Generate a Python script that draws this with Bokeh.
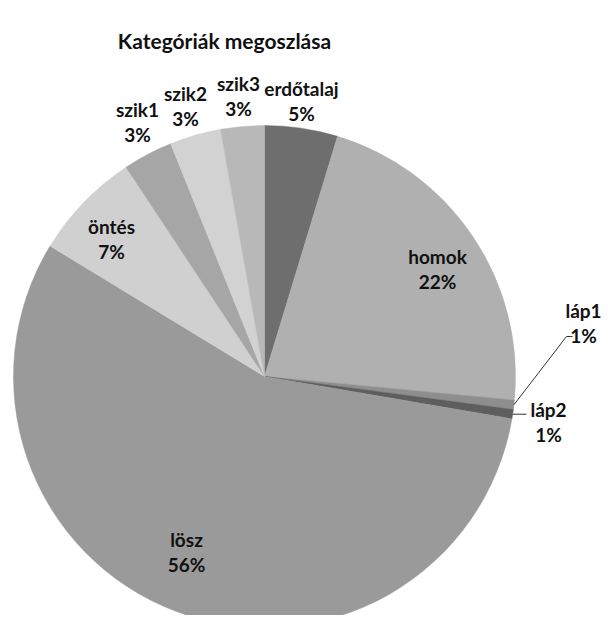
import numpy as np
from bokeh.plotting import figure
from bokeh.models import ColumnDataSource, Range1d, Label
from bokeh.core.properties import value
from bokeh.embed import file_html
from bokeh.resources import INLINE

# ---- data ----
categories = ["erdőtalaj", "homok", "láp1", "láp2", "lösz", "öntés", "szik1", "szik2", "szik3"]
shares = [4.7, 21.8, 0.6, 0.6, 56.0, 7.0, 3.2, 3.3, 2.8]
colors = ["#6e6e6e", "#b0b0b0", "#8e8e8e", "#5e5e5e", "#9a9a9a", "#d0d0d0", "#a6a6a6", "#d2d2d2", "#b8b8b8"]
title_text = "Kategóriák megoszlása"

# ---- layout (data x = px from left, data y = H - px from top) ----
W, H = 601, 615
def sy(y):
    return H - y

cx, cy, R = 264, sy(376), 251

label_pos = {
    "erdőtalaj": (301, 88),
    "homok": (437, 256),
    "láp1": (583, 310),
    "láp2": (548, 409),
    "lösz": (186, 539),
    "öntés": (111, 226),
    "szik1": (137, 109),
    "szik2": (185, 93),
    "szik3": (238, 83),
}
line_gap = 25

vals = np.array(shares, dtype=float)
frac = vals / vals.sum()
cum = np.concatenate([[0.0], np.cumsum(frac)])
start = np.pi / 2 - 2 * np.pi * cum[:-1]
end = np.pi / 2 - 2 * np.pi * cum[1:]
mid = (start + end) / 2
pct_text = [f"{int(round(v))}%" for v in frac * 100]

src = ColumnDataSource(dict(cat=categories, start=start, end=end, color=colors))

p = figure(width=W, height=H, output_backend="svg", toolbar_location=None,
           x_range=Range1d(0, W), y_range=Range1d(0, H),
           min_border=0, tools="")
p.axis.visible = False
p.grid.visible = False
p.outline_line_color = None
p.background_fill_color = "white"
p.border_fill_color = "white"

p.wedge(x=cx, y=cy, radius=R, start_angle="start", end_angle="end",
        direction="clock", fill_color="color", line_color="color", line_width=0.5,
        source=src)

# labels
lx = [label_pos[c][0] for c in categories]
ly1 = [sy(label_pos[c][1]) for c in categories]
ly2 = [sy(label_pos[c][1] + line_gap) for c in categories]
lsrc = ColumnDataSource(dict(x=lx, y1=ly1, y2=ly2, name=categories, pct=pct_text))
common = dict(text_font=value("Lato"), text_font_style="bold", text_font_size="19px",
              text_color="#111111", text_align="center", text_baseline="middle", source=lsrc)
p.text(x="x", y="y1", text="name", **common)
p.text(x="x", y="y2", text="pct", **common)

# leader lines for the thin láp slices
i1 = categories.index("láp1")
i2 = categories.index("láp2")
e1 = (cx + R * np.cos(mid[i1]), cy + R * np.sin(mid[i1]))
e2 = (cx + R * np.cos(mid[i2]), cy + R * np.sin(mid[i2]))
p.line(x=[e1[0], 566, 572], y=[e1[1], sy(336), sy(336)], line_color="#333333", line_width=1)
p.line(x=[e2[0], 526], y=[e2[1], e2[1]], line_color="#333333", line_width=1)

p.add_layout(Label(x=224, y=sy(40), text=title_text, text_align="center", text_baseline="middle",
                   text_font="Lato", text_font_style="bold", text_font_size="21px",
                   text_color="#111111"))

open("out.html", "w").write(file_html(p, INLINE))
